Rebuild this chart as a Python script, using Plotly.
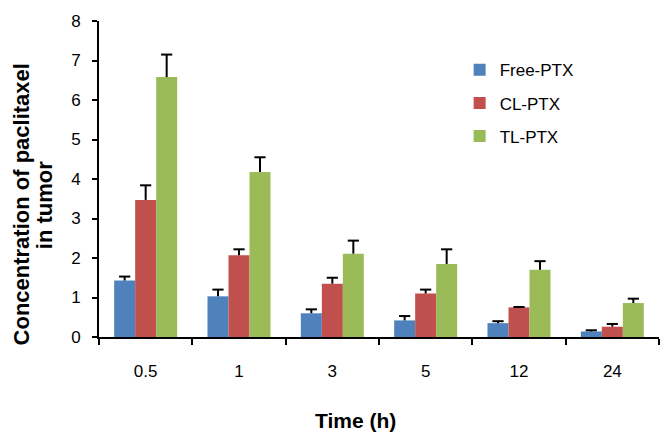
import plotly.graph_objects as go

categories = ["0.5", "1", "3", "5", "12", "24"]
series_names = ["Free-PTX", "CL-PTX", "TL-PTX"]
free_ptx = [1.43, 1.03, 0.60, 0.42, 0.35, 0.14]
free_err = [0.10, 0.17, 0.10, 0.11, 0.05, 0.03]
cl_ptx = [3.47, 2.07, 1.35, 1.10, 0.75, 0.26]
cl_err = [0.37, 0.15, 0.15, 0.10, 0.01, 0.07]
tl_ptx = [6.58, 4.18, 2.11, 1.85, 1.70, 0.86]
tl_err = [0.57, 0.37, 0.33, 0.37, 0.22, 0.11]
colors = ["#4F81BD", "#C0504D", "#9BBB59"]

values = [free_ptx, cl_ptx, tl_ptx]
errors = [free_err, cl_err, tl_err]
legend_ids = ["legend", "legend2", "legend3"]
legend_y = [0.844, 0.739, 0.635]
groups = ["g1", "g2", "g3"]

FONT = "Liberation Sans, Arial, sans-serif"

fig = go.Figure()
for name, vals, col, lg, grp in zip(series_names, values, colors, legend_ids, groups):
    fig.add_trace(go.Bar(
        x=categories, y=vals, name=name, legend=lg, offsetgroup=grp,
        marker=dict(color=col, line=dict(width=0)),
    ))

# error bars (upper only) with a cap at the top
for vals, errs, grp in zip(values, errors, groups):
    tops = [v + e for v, e in zip(vals, errs)]
    fig.add_trace(go.Scatter(
        x=categories, y=tops, mode="markers", offsetgroup=grp, showlegend=False,
        marker=dict(symbol="line-ew", size=8, color="black", line=dict(width=2, color="black")),
        error_y=dict(type="data", symmetric=False, array=[0] * len(errs), arrayminus=errs,
                     color="black", thickness=2, width=0),
        hoverinfo="skip",
    ))

layout_legends = {}
for lg, ly in zip(legend_ids, legend_y):
    layout_legends[lg] = dict(x=0.644, xanchor="left", y=ly, yanchor="middle",
                              font=dict(family=FONT, size=17, color="black"),
                              bgcolor="rgba(0,0,0,0)", borderwidth=0)

fig.update_layout(
    width=670, height=433,
    margin=dict(l=99, r=11, t=21, b=96),
    paper_bgcolor="white", plot_bgcolor="white",
    barmode="group", bargap=0.325, bargroupgap=0,
    scattermode="group", scattergap=0.325,
    showlegend=True,
    font=dict(family=FONT, color="black"),
    xaxis=dict(
        type="category", showline=True, linecolor="black", linewidth=2,
        ticks="outside", tickson="boundaries", ticklen=6, tickwidth=2, tickcolor="black",
        tickfont=dict(size=17, family=FONT, color="black"), ticklabelstandoff=18,
        showgrid=False, zeroline=False,
    ),
    yaxis=dict(
        range=[0, 8], dtick=1, showline=True, linecolor="black", linewidth=2,
        ticks="outside", ticklen=5, tickwidth=2, tickcolor="black",
        tickfont=dict(size=17, family=FONT, color="black"), ticklabelstandoff=8,
        showgrid=False, zeroline=False,
    ),
    annotations=[
        dict(text="<b>Time (h)</b>", xref="paper", yref="paper", x=0.458, y=-0.264,
             xanchor="center", yanchor="middle", showarrow=False,
             font=dict(family=FONT, size=21, color="black")),
        dict(text="<b>Concentration of paclitaxel</b>", xref="paper", yref="paper",
             x=-0.139, y=0.42, xanchor="center", yanchor="middle", textangle=-90,
             showarrow=False, font=dict(family=FONT, size=22, color="black")),
        dict(text="<b>in tumor</b>", xref="paper", yref="paper",
             x=-0.096, y=0.418, xanchor="center", yanchor="middle", textangle=-90,
             showarrow=False, font=dict(family=FONT, size=22, color="black")),
    ],
    **layout_legends,
)

fig.write_html("out.html", config={"displayModeBar": False},
               post_script="document.body.style.margin='0px';")
